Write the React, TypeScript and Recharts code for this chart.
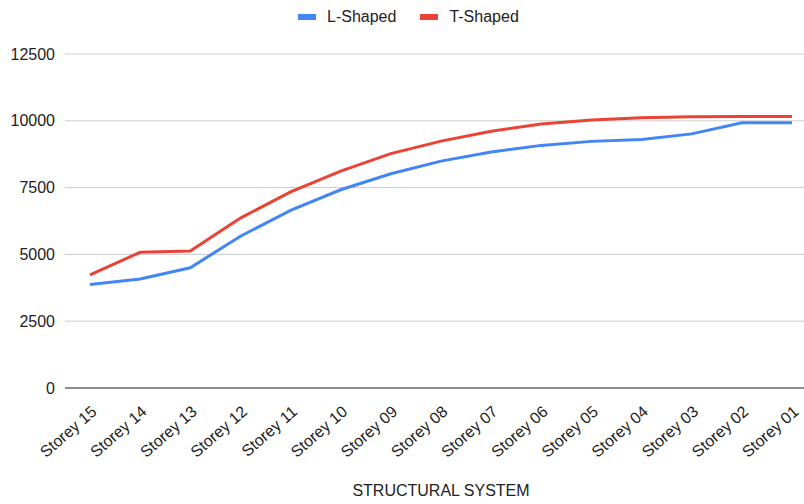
import { LineChart, Line, XAxis, YAxis, CartesianGrid } from 'recharts';

const storeys = [
  'Storey 15', 'Storey 14', 'Storey 13', 'Storey 12', 'Storey 11',
  'Storey 10', 'Storey 09', 'Storey 08', 'Storey 07', 'Storey 06',
  'Storey 05', 'Storey 04', 'Storey 03', 'Storey 02', 'Storey 01',
];
const lShaped = [3870, 4080, 4500, 5680, 6650, 7420, 8020, 8490, 8830, 9080, 9230, 9300, 9510, 9930, 9930];
const tShaped = [4230, 5080, 5130, 6360, 7340, 8120, 8770, 9240, 9610, 9880, 10030, 10110, 10150, 10160, 10160];
const yTicks = [0, 2500, 5000, 7500, 10000, 12500];

const series = [
  { key: 'lShaped', label: 'L-Shaped', color: '#4285F4' },
  { key: 'tShaped', label: 'T-Shaped', color: '#EA4335' },
];

const data = storeys.map((s, i) => ({ storey: s, lShaped: lShaped[i], tShaped: tShaped[i] }));

const FONT = 'Arial, "Liberation Sans", sans-serif';

function StoreyTick(props: any) {
  const { x, y, payload } = props;
  return (
    <g transform={`translate(${x + 4},${y + 13}) rotate(-41)`}>
      <text textAnchor="end" dy="0.35em" fontSize={16} fill="#222" fontFamily={FONT}>
        {payload.value}
      </text>
    </g>
  );
}

export default function App() {
  return (
    <div style={{ position: 'absolute', left: 0, top: 0, width: 804, height: 504, overflow: 'hidden', background: '#fff', fontFamily: FONT }}>
      {/* legend sits above the plot, drawn as plain html */}
      <div style={{ position: 'absolute', top: 8, left: 298, display: 'flex', alignItems: 'center', fontSize: 16, color: '#222' }}>
        {series.map((s) => (
          <div key={s.key} style={{ display: 'flex', alignItems: 'center', marginRight: 24 }}>
            <span style={{ display: 'inline-block', width: 18, height: 6, background: s.color, marginRight: 11 }} />
            <span>{s.label}</span>
          </div>
        ))}
      </div>
      <LineChart width={830} height={504} data={data} margin={{ top: 54, right: 13, left: 0, bottom: 0 }}>
        <CartesianGrid vertical={false} stroke="#cccccc" />
        <XAxis
          dataKey="storey"
          height={116}
          interval={0}
          padding={{ left: 25, right: 25 }}
          tick={<StoreyTick />}
          tickLine={false}
          axisLine={{ stroke: '#333' }}
          label={{ value: 'STRUCTURAL SYSTEM', position: 'insideBottom', offset: 8, fontSize: 16, fill: '#222', fontFamily: FONT }}
        />
        <YAxis
          width={65}
          domain={[0, 12500]}
          ticks={yTicks}
          tickLine={false}
          axisLine={false}
          tickMargin={4}
          tick={{ fontSize: 16, fill: '#222', fontFamily: FONT }}
        />
        {series.map((s) => (
          <Line
            key={s.key}
            type="linear"
            dataKey={s.key}
            name={s.label}
            stroke={s.color}
            strokeWidth={3}
            dot={false}
            isAnimationActive={false}
          />
        ))}
      </LineChart>
    </div>
  );
}
